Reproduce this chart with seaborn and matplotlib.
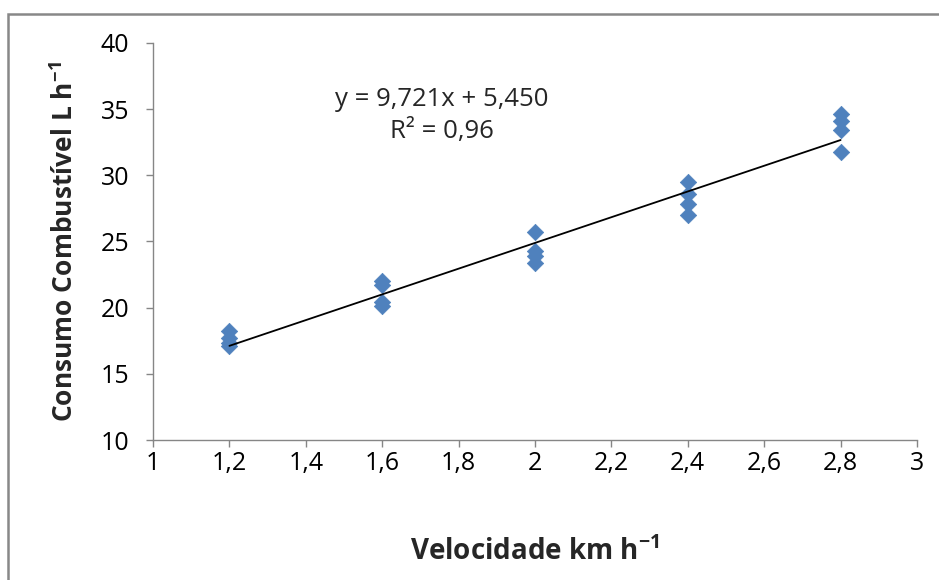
import matplotlib
matplotlib.use("Agg")
import matplotlib.pyplot as plt
import matplotlib.patches as mpatches
import seaborn as sns
import pandas as pd
import numpy as np

# Fuel consumption measured at each travel speed
velocidade = [1.2, 1.2, 1.2, 1.2,
              1.6, 1.6, 1.6, 1.6,
              2.0, 2.0, 2.0, 2.0,
              2.4, 2.4, 2.4, 2.4,
              2.8, 2.8, 2.8, 2.8]
consumo = [18.2, 17.7, 17.3, 17.1,
           22.0, 21.7, 20.4, 20.1,
           25.7, 24.3, 23.9, 23.4,
           29.5, 28.6, 27.8, 27.0,
           34.6, 34.1, 33.4, 31.8]

# Linear trend line
slope = 9.721
intercept = 5.450
r2 = 0.96

x_ticks = [1.0, 1.2, 1.4, 1.6, 1.8, 2.0, 2.2, 2.4, 2.6, 2.8, 3.0]
x_tick_labels = ["1", "1,2", "1,4", "1,6", "1,8", "2", "2,2", "2,4", "2,6", "2,8", "3"]
y_ticks = [10, 15, 20, 25, 30, 35, 40]

df = pd.DataFrame({"velocidade": velocidade, "consumo": consumo})

sns.set_theme(style="ticks")
plt.rcParams["font.family"] = ["Open Sans", "DejaVu Sans"]
plt.rcParams["mathtext.fontset"] = "custom"
plt.rcParams["mathtext.rm"] = "Open Sans"
plt.rcParams["mathtext.bf"] = "Open Sans:bold"

fig = plt.figure(figsize=(9.39, 5.80), dpi=100)
ax = fig.add_axes([153 / 939, 1 - 440 / 580, (917 - 153) / 939, (440 - 43) / 580])

sns.scatterplot(data=df, x="velocidade", y="consumo", marker="D", s=70,
                color="#4F81BD", edgecolor="#4F81BD", linewidth=0.5, ax=ax, zorder=2)

xl = np.array([min(velocidade), max(velocidade)])
ax.plot(xl, slope * xl + intercept, color="black", linewidth=1.3, zorder=3)

ax.set_xlim(1.0, 3.0)
ax.set_ylim(10, 40)
ax.set_xticks(x_ticks)
ax.set_xticklabels(x_tick_labels)
ax.set_yticks(y_ticks)

for side in ["top", "right"]:
    ax.spines[side].set_visible(False)
for side in ["left", "bottom"]:
    ax.spines[side].set_color("#868686")
    ax.spines[side].set_linewidth(1.0)
ax.tick_params(axis="both", colors="#868686", length=5, width=1.0, direction="out",
               labelsize=18, labelcolor="black")
ax.tick_params(axis="x", pad=3)
ax.tick_params(axis="y", pad=12)

ax.set_xlabel(r"Velocidade km h$^{\mathbf{-1}}$", fontsize=20, fontweight="bold",
              labelpad=44)
ax.set_ylabel(r"Consumo Combustível L h$^{\mathbf{-1}}$", fontsize=19, fontweight="bold",
              labelpad=16)

fig.text(442 / 939, 1 - 100 / 580, f"y = {slope:.3f}x + {intercept:.3f}".replace(".", ","),
         ha="center", va="center", fontsize=18.5)
fig.text(442 / 939, 1 - 131 / 580, f"R² = {r2:.2f}".replace(".", ","),
         ha="center", va="center", fontsize=18.5)

# Chart area frame
frame = mpatches.Rectangle((8 / 939, -0.05), 1.2, 1 - 14 / 580 + 0.05,
                           transform=fig.transFigure, fill=False,
                           edgecolor="#888888", linewidth=1.8, clip_on=False)
fig.patches.append(frame)

fig.savefig("out.png", dpi=100, facecolor="white")
